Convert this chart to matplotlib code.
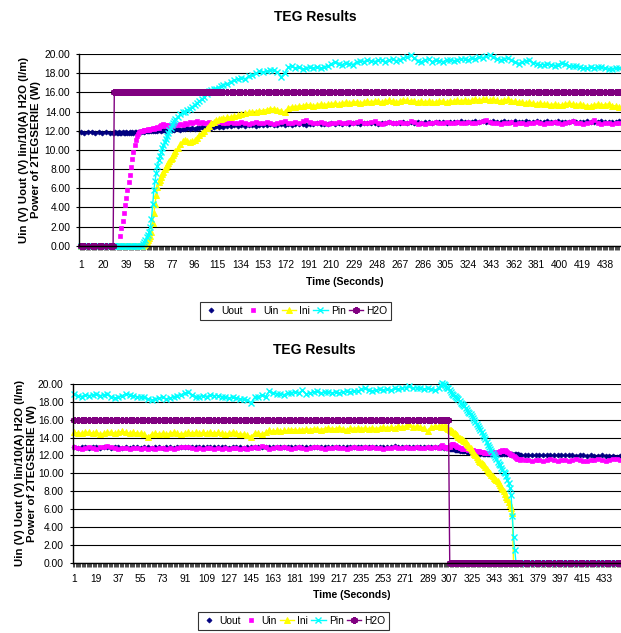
import matplotlib
matplotlib.use("Agg")
import matplotlib.pyplot as plt
from matplotlib.ticker import FixedLocator, FixedFormatter, MultipleLocator, NullFormatter

plt.rcParams['font.family'] = ['Liberation Sans', 'DejaVu Sans']

# ---------------- text ----------------
chart_title = "TEG Results"
y_title = "Uin (V) Uout (V) Iin/10(A) H2O (l/m)\nPower of 2TEGSERIE (W)"
x_title = "Time (Seconds)"
series_names = ["Uout", "Uin", "Ini", "Pin", "H2O"]

# ---------------- top chart data ----------------
time_top = list(range(1, 29, 3)) + list(range(29, 81)) + list(range(82, 121, 2)) + list(range(123, 451, 3))
xtick_top = [1, 20, 39, 58, 77, 96, 115, 134, 153, 172, 191, 210, 229, 248, 267, 286,
             305, 324, 343, 362, 381, 400, 419, 438]

uout_top = [11.9, 11.8, 11.9, 11.9, 11.8, 11.9, 11.8, 11.9, 11.8, 11.8,
            11.8, 11.9, 11.8, 11.8, 11.9, 11.8, 11.8, 11.9, 11.8, 11.8, 11.9, 11.8,
            11.8, 11.9, 11.8, 11.9, 11.8, 11.9, 11.9, 11.8, 11.9, 11.9, 11.9, 12.0,
            12.0, 11.9, 12.0, 12.0, 12.0, 12.0, 12.1, 12.0, 12.0, 12.1, 12.0, 12.1,
            12.0, 12.1, 12.1, 12.0, 12.1, 12.1, 12.1, 12.0, 12.1, 12.1, 12.2, 12.1, 12.1, 12.2, 12.1, 12.2,
            12.2, 12.1, 12.2, 12.2, 12.3, 12.2, 12.3, 12.2, 12.3, 12.3,
            12.4, 12.3, 12.4, 12.4, 12.3, 12.4, 12.5, 12.4, 12.5, 12.4,
            12.5, 12.5, 12.6, 12.5, 12.6, 12.5, 12.6, 12.6, 12.5, 12.6,
            12.6, 12.6, 12.7, 12.6, 12.6, 12.7, 12.6, 12.7, 12.6, 12.7,
            12.7, 12.7, 12.6, 12.7, 12.7, 12.8, 12.7, 12.7, 12.7, 12.8,
            12.7, 12.8, 12.7, 12.8, 12.7, 12.8, 12.8, 12.7, 12.8, 12.8,
            12.8, 12.8, 12.7, 12.8, 12.8, 12.9, 12.8, 12.8, 12.8, 12.9,
            12.8, 12.9, 12.8, 12.9, 12.8, 12.9, 12.9, 12.8, 12.9, 12.9,
            12.9, 12.8, 12.9, 12.9, 12.9, 13.0, 12.9, 12.9, 12.9, 13.0,
            12.9, 13.0, 12.9, 12.9, 13.0, 12.9, 12.9, 13.0, 12.9, 12.9,
            13.0, 12.9, 12.9, 13.0, 12.9, 12.9, 13.0, 12.9, 12.9, 13.0,
            12.9, 12.9, 13.0, 12.9, 12.9, 12.9, 13.0, 12.9, 12.9, 12.9,
            13.0, 12.9, 12.9, 12.9, 13.0, 12.9, 12.9, 12.9, 12.9, 13.0]

uin_top = [0, 0, 0, 0, 0, 0, 0, 0, 0, 0,
           0, 0, 0, 0, 0,
           1.0, 1.8, 2.6, 3.4, 4.2, 5.0, 5.8, 6.6, 7.4, 8.2, 9.0, 9.8, 10.5, 11.0, 11.4, 11.7, 11.9, 12.0, 12.0,
           12.0, 12.1, 12.1, 12.1, 12.2, 12.1, 12.2, 12.2, 12.3, 12.2, 12.3, 12.3, 12.4, 12.3,
           12.5, 12.6, 12.5, 12.7, 12.6, 12.5, 12.6, 12.5, 12.6, 12.6, 12.5, 12.6, 12.7, 12.6,
           12.6, 12.7, 12.6, 12.8, 12.7, 12.9, 12.8, 12.9, 13.0, 12.8,
           12.9, 12.8, 12.8, 12.9, 12.8, 12.8, 12.9, 13.0, 12.9, 12.8,
           12.8, 12.9, 12.8, 12.8, 12.9, 12.8, 12.7, 12.8, 12.9, 12.8,
           12.8, 12.9, 12.8, 12.7, 12.8, 12.9, 13.0, 12.8, 12.8, 12.9,
           12.8, 13.0, 13.1, 12.9, 12.8, 12.8, 12.9, 12.8, 12.7, 12.8,
           12.8, 12.9, 12.8, 12.8, 12.9, 12.8, 12.9, 13.0, 12.8, 12.8,
           12.9, 13.0, 12.8, 12.7, 12.8, 12.9, 12.8, 12.8, 12.9, 12.8,
           12.8, 13.0, 12.9, 12.7, 12.8, 12.7, 12.8, 12.8, 12.9, 12.8,
           12.8, 12.9, 12.8, 12.8, 12.9, 12.8, 12.8, 12.9, 12.8, 12.8,
           12.9, 13.0, 13.1, 12.9, 12.8, 12.8, 12.7, 12.8, 12.8, 12.9,
           12.7, 12.8, 12.8, 12.7, 12.8, 12.8, 12.9, 12.8, 12.7, 12.8,
           12.8, 12.9, 12.8, 12.7, 12.8, 12.9, 13.0, 12.8, 12.8, 12.7,
           12.8, 12.9, 13.1, 12.8, 12.7, 12.8, 12.8, 12.7, 12.8, 12.8]

ini_top = [0, 0, 0, 0, 0, 0, 0, 0, 0, 0,
           0, 0, 0, 0, 0, 0, 0, 0, 0, 0, 0, 0, 0, 0, 0, 0, 0, 0, 0, 0, 0, 0, 0, 0,
           0.0, 0.1, 0.2, 0.4, 0.6, 0.8, 1.0, 1.4, 2.4, 3.4, 4.4, 5.3, 6.1, 6.6,
           6.9, 7.2, 7.5, 7.7, 8.0, 8.2, 8.4, 8.6, 8.8, 9.0, 9.2, 9.5, 9.7, 9.9,
           10.2, 10.6, 10.9, 11.0, 10.9, 10.85, 10.9, 11.0, 11.2, 11.5,
           11.8, 12.0, 12.25, 12.5, 12.8, 12.95, 13.1, 13.2, 13.2, 13.3,
           13.4, 13.45, 13.5, 13.6, 13.7, 13.8, 13.9, 14.0, 14.0, 14.1,
           14.1, 14.2, 14.3, 14.3, 14.2, 14.1, 13.9, 14.4, 14.5, 14.5,
           14.6, 14.6, 14.7, 14.7, 14.6, 14.7, 14.8, 14.7, 14.8, 14.8,
           14.9, 14.8, 14.9, 15.0, 14.9, 15.0, 15.0, 14.9, 15.0, 15.1,
           15.0, 15.1, 15.1, 15.0, 15.1, 15.2, 15.1, 15.0, 15.1, 15.2,
           15.2, 15.1, 15.1, 15.0, 15.1, 15.0, 15.1, 15.0, 15.0, 15.1,
           15.1, 15.0, 15.1, 15.1, 15.2, 15.1, 15.2, 15.1, 15.2, 15.3,
           15.2, 15.3, 15.3, 15.2, 15.3, 15.2, 15.1, 15.2, 15.3, 15.1,
           15.1, 15.0, 15.0, 14.9, 15.0, 14.9, 14.8, 14.9, 14.8, 14.8,
           14.7, 14.8, 14.7, 14.7, 14.8, 14.9, 14.8, 14.7, 14.8, 14.7,
           14.6, 14.6, 14.7, 14.8, 14.7, 14.7, 14.8, 14.6, 14.6, 14.5]

pin_top = [0, 0, 0, 0, 0, 0, 0, 0, 0, 0,
           0, 0, 0, 0, 0, 0, 0, 0, 0, 0, 0, 0, 0, 0, 0, 0, 0, 0, 0, 0, 0, 0, 0, 0,
           0.2, 0.4, 0.6, 0.9, 1.1, 1.4, 1.9, 2.8, 4.3, 5.8, 6.8, 7.6, 8.3, 8.9,
           9.4, 9.8, 10.2, 10.5, 10.8, 11.1, 11.4, 11.8, 12.1, 12.3, 12.6, 12.8, 13.0, 13.2,
           13.4, 13.7, 13.9, 14.0, 14.2, 14.3, 14.5, 14.7, 14.9, 15.1,
           15.3, 15.5, 15.8, 16.1, 16.2, 16.3, 16.4, 16.5, 16.7, 16.8,
           16.9, 17.1, 17.3, 17.4, 17.5, 17.4, 17.7, 17.8, 18.0, 18.2,
           18.1, 18.2, 18.3, 18.3, 18.1, 17.6, 18.0, 18.6, 18.7, 18.5,
           18.6, 18.4, 18.5, 18.6, 18.5, 18.6, 18.5, 18.6, 18.7, 19.0,
           19.2, 19.0, 18.9, 19.1, 19.0, 18.9, 19.2, 19.3, 19.2, 19.4,
           19.3, 19.2, 19.4, 19.4, 19.2, 19.4, 19.5, 19.3, 19.4, 19.6,
           19.7, 19.9, 19.6, 19.3, 19.2, 19.4, 19.5, 19.2, 19.4, 19.3,
           19.2, 19.4, 19.4, 19.3, 19.4, 19.5, 19.5, 19.4, 19.6, 19.5,
           19.7, 19.6, 19.8, 19.9, 19.7, 19.5, 19.4, 19.5, 19.6, 19.4,
           19.2, 19.0, 19.2, 19.3, 19.4, 19.1, 19.0, 18.9, 18.9, 19.0,
           18.9, 18.8, 18.9, 19.1, 19.0, 18.8, 18.7, 18.8, 18.6, 18.5,
           18.5, 18.6, 18.5, 18.6, 18.6, 18.5, 18.4, 18.4, 18.5, 18.5]

h2o_top = [0, 0, 0, 0, 0, 0, 0, 0, 0, 0,
           16, 16, 16, 16, 16, 16, 16, 16, 16, 16, 16, 16, 16, 16, 16, 16, 16, 16, 16, 16,
           16, 16, 16, 16, 16, 16, 16, 16, 16, 16, 16, 16, 16, 16, 16, 16, 16, 16, 16, 16,
           16, 16, 16, 16, 16, 16, 16, 16, 16, 16, 16, 16, 16, 16, 16, 16, 16, 16, 16, 16,
           16, 16, 16, 16, 16, 16, 16, 16, 16, 16, 16, 16, 16, 16, 16, 16, 16, 16, 16, 16,
           16, 16, 16, 16, 16, 16, 16, 16, 16, 16, 16, 16, 16, 16, 16, 16, 16, 16, 16, 16,
           16, 16, 16, 16, 16, 16, 16, 16, 16, 16, 16, 16, 16, 16, 16, 16, 16, 16, 16, 16,
           16, 16, 16, 16, 16, 16, 16, 16, 16, 16, 16, 16, 16, 16, 16, 16, 16, 16, 16, 16,
           16, 16, 16, 16, 16, 16, 16, 16, 16, 16, 16, 16, 16, 16, 16, 16, 16, 16, 16, 16,
           16, 16, 16, 16, 16, 16, 16, 16, 16, 16, 16, 16, 16, 16, 16, 16, 16, 16, 16, 16,
           16, 16]

# ---------------- bottom chart data ----------------
time_bot = list(range(1, 299, 3)) + list(range(300, 366)) + list(range(368, 447, 3))
xtick_bot = [1, 19, 37, 55, 73, 91, 109, 127, 145, 163, 181, 199, 217, 235, 253, 271,
             289, 307, 325, 343, 361, 379, 397, 415, 433]

uout_bot = [12.9, 12.8, 12.9, 12.9, 12.8, 12.9, 12.9, 12.8, 12.9, 12.9,
            12.8, 12.9, 12.9, 12.8, 12.9, 12.8, 12.9, 12.9, 12.8, 12.9,
            12.9, 12.8, 12.9, 12.9, 12.8, 12.9, 12.9, 12.8, 12.9, 12.9,
            12.9, 13.0, 12.9, 12.9, 12.9, 13.0, 12.9, 12.9, 12.9, 12.9,
            12.9, 12.9, 12.8, 12.9, 12.9, 12.9, 12.8, 12.9, 12.9, 12.9,
            12.9, 13.0, 12.9, 12.9, 12.9, 13.0, 12.9, 12.9, 13.0, 12.9,
            12.9, 13.0, 12.9, 12.9, 13.0, 12.9, 13.0, 12.9, 12.9, 13.0,
            12.9, 13.0, 12.9, 13.0, 12.9, 13.0, 12.9, 13.0, 13.0, 12.9,
            13.0, 12.9, 13.0, 13.0, 12.9, 13.0, 13.0, 13.1, 13.0, 13.0,
            13.0, 12.9, 13.0, 13.0, 12.9, 13.0, 13.0, 12.9, 13.0, 12.9,
            12.9, 12.9, 12.8, 12.9, 12.8, 12.8, 12.8, 12.7, 12.7, 12.7,
            12.7, 12.6, 12.6, 12.6, 12.6, 12.5, 12.6, 12.5, 12.5, 12.5,
            12.5, 12.4, 12.4, 12.4, 12.4, 12.3, 12.4, 12.3, 12.3, 12.3,
            12.3, 12.3, 12.2, 12.3, 12.2, 12.2, 12.2, 12.2, 12.2, 12.2,
            12.2, 12.2, 12.2, 12.3, 12.2, 12.2, 12.3, 12.2, 12.2, 12.2,
            12.2, 12.2, 12.3, 12.2, 12.2, 12.2, 12.2, 12.1, 12.2, 12.1,
            12.2, 12.2, 12.1, 12.2, 12.1, 12.1,
            12.1, 12.1, 12.1, 12.0, 12.1, 12.1, 12.0, 12.1, 12.0, 12.0,
            12.0, 12.1, 12.0, 12.0, 11.9, 12.0, 12.0, 11.9, 12.0, 11.9,
            11.9, 12.0, 11.9, 11.9, 11.9, 11.8, 11.9]

uin_bot = [12.9, 12.8, 12.7, 12.8, 12.9, 12.8, 12.7, 12.9, 13.0, 13.1,
           12.9, 12.8, 12.7, 12.8, 12.8, 12.7, 12.8, 12.8, 12.7, 12.8,
           12.7, 12.8, 12.7, 12.8, 12.8, 12.7, 12.8, 12.7, 12.8, 12.9,
           13.0, 12.9, 12.8, 12.7, 12.8, 12.7, 12.8, 12.8, 12.7, 12.8,
           12.7, 12.8, 12.7, 12.8, 12.8, 12.7, 12.8, 12.7, 12.8, 12.9,
           12.8, 13.1, 12.9, 12.7, 12.8, 12.9, 12.8, 13.0, 12.8, 12.7,
           12.8, 12.9, 12.8, 12.7, 12.8, 13.0, 12.9, 12.8, 12.7, 12.8,
           12.8, 12.9, 12.8, 12.8, 12.7, 12.8, 12.9, 12.8, 12.8, 12.9,
           12.8, 12.9, 12.8, 12.8, 12.7, 12.8, 12.8, 12.9, 12.8, 12.8,
           12.9, 12.8, 12.8, 12.9, 12.8, 12.8, 12.9, 12.8, 12.9, 12.8,
           13.1, 13.2, 13.0, 12.9, 12.8, 12.8, 12.9, 13.0, 13.2, 13.3,
           13.3, 13.2, 13.1, 13.0, 12.9, 12.8, 12.8, 12.7, 12.7, 12.7,
           12.7, 12.7, 12.6, 12.7, 12.6, 12.6, 12.6, 12.5, 12.5, 12.5,
           12.5, 12.5, 12.4, 12.4, 12.4, 12.3, 12.3, 12.3, 12.3, 12.3,
           12.3, 12.3, 12.3, 12.3, 12.4, 12.3, 12.4, 12.4, 12.5, 12.5,
           12.6, 12.5, 12.6, 12.5, 12.4, 12.3, 12.2, 12.1, 12.0, 11.9,
           11.8, 11.7, 11.6, 11.6, 11.5, 11.6,
           11.5, 11.5, 11.4, 11.5, 11.5, 11.4, 11.5, 11.6, 11.5, 11.4,
           11.5, 11.5, 11.4, 11.5, 11.6, 11.5, 11.4, 11.4, 11.5, 11.5,
           11.6, 11.5, 11.4, 11.5, 11.6, 11.6, 11.5]

ini_bot = [14.6, 14.5, 14.5, 14.6, 14.6, 14.5, 14.6, 14.4, 14.5, 14.6,
           14.6, 14.5, 14.6, 14.7, 14.6, 14.5, 14.6, 14.5, 14.5, 14.4,
           14.1, 14.4, 14.5, 14.4, 14.5, 14.4, 14.5, 14.6, 14.5, 14.4,
           14.5, 14.6, 14.5, 14.6, 14.5, 14.6, 14.5, 14.6, 14.5, 14.6,
           14.5, 14.4, 14.5, 14.6, 14.5, 14.4, 14.4, 14.3, 14.1, 14.5,
           14.5, 14.4, 14.6, 14.8, 14.7, 14.8, 14.7, 14.8, 14.8, 14.9,
           14.9, 14.8, 14.9, 15.0, 14.9, 15.0, 15.0, 14.9, 15.0, 15.1,
           15.0, 15.0, 15.1, 15.0, 14.9, 15.1, 15.0, 15.1, 15.0, 15.1,
           15.0, 15.1, 15.0, 15.1, 15.2, 15.1, 15.2, 15.1, 15.3, 15.2,
           15.3, 15.5, 15.2, 15.3, 15.2, 15.1, 14.7, 15.2, 15.3, 15.3,
           15.2, 15.3, 15.2, 15.3, 15.2, 15.1, 15.0, 14.9, 14.8, 14.7,
           14.6, 14.5, 14.4, 14.3, 14.1, 14.0, 13.9, 13.8, 13.7, 13.6,
           13.5, 13.3, 13.2, 13.0, 12.8, 12.6, 12.4, 12.2, 12.0, 11.8,
           11.6, 11.4, 11.3, 11.2, 11.0, 10.9, 10.7, 10.5, 10.3, 10.1,
           10.0, 9.8, 9.7, 9.5, 9.4, 9.2, 9.1, 8.9, 8.7, 8.5,
           8.2, 8.0, 7.7, 7.4, 7.1, 6.8, 6.5, 6.1, 5.6, 0.0,
           0, 0, 0, 0, 0, 0,
           0, 0, 0, 0, 0, 0, 0, 0, 0, 0, 0, 0, 0, 0, 0, 0, 0, 0, 0, 0, 0, 0, 0, 0, 0, 0, 0]

pin_bot = [18.9, 18.7, 18.6, 18.8, 18.7, 18.8, 18.9, 18.7, 18.8, 18.9,
           18.6, 18.4, 18.5, 18.7, 18.9, 18.8, 18.7, 18.6, 18.5, 18.6,
           18.3, 18.2, 18.3, 18.4, 18.5, 18.3, 18.4, 18.6, 18.7, 18.8,
           19.0, 19.1, 18.8, 18.6, 18.6, 18.7, 18.6, 18.8, 18.7, 18.7,
           18.6, 18.5, 18.4, 18.5, 18.4, 18.3, 18.3, 18.2, 17.9, 18.5,
           18.6, 18.8, 18.6, 19.2, 19.0, 18.9, 18.9, 18.8, 19.0, 19.0,
           19.1, 19.0, 19.3, 18.9, 19.0, 19.1, 19.2, 19.0, 19.1, 19.1,
           19.0, 19.1, 19.0, 19.1, 19.2, 19.1, 19.2, 19.2, 19.4, 19.5,
           19.3, 19.2, 19.3, 19.4, 19.3, 19.4, 19.3, 19.5, 19.4, 19.5,
           19.6, 19.8, 19.5, 19.6, 19.5, 19.4, 19.5, 19.4, 19.3, 19.5,
           19.9, 20.1, 20.0, 19.9, 19.7, 19.6, 19.5, 19.3, 19.1, 18.9,
           18.8, 18.7, 18.5, 18.4, 18.3, 18.1, 17.9, 17.8, 17.6, 17.5,
           17.3, 17.1, 16.9, 16.7, 16.6, 16.4, 16.2, 16.0, 15.8, 15.5,
           15.3, 15.1, 14.9, 14.6, 14.3, 14.1, 13.8, 13.5, 13.2, 12.9,
           12.7, 12.5, 12.3, 12.0, 11.8, 11.6, 11.3, 11.1, 10.9, 10.6,
           10.4, 10.2, 10.0, 9.7, 9.3, 8.9, 8.4, 7.6, 5.2, 2.9,
           1.4, 0, 0, 0, 0, 0,
           0, 0, 0, 0, 0, 0, 0, 0, 0, 0, 0, 0, 0, 0, 0, 0, 0, 0, 0, 0, 0, 0, 0, 0, 0, 0, 0]

h2o_bot = [16, 16, 16, 16, 16, 16, 16, 16, 16, 16, 16, 16, 16, 16, 16, 16, 16, 16, 16, 16,
           16, 16, 16, 16, 16, 16, 16, 16, 16, 16, 16, 16, 16, 16, 16, 16, 16, 16, 16, 16,
           16, 16, 16, 16, 16, 16, 16, 16, 16, 16, 16, 16, 16, 16, 16, 16, 16, 16, 16, 16,
           16, 16, 16, 16, 16, 16, 16, 16, 16, 16, 16, 16, 16, 16, 16, 16, 16, 16, 16, 16,
           16, 16, 16, 16, 16, 16, 16, 16, 16, 16, 16, 16, 16, 16, 16, 16, 16, 16, 16, 16,
           16, 16, 16, 16, 16, 16, 16,
           0, 0, 0, 0, 0, 0, 0, 0, 0, 0, 0, 0, 0, 0, 0, 0, 0, 0, 0, 0,
           0, 0, 0, 0, 0, 0, 0, 0, 0, 0, 0, 0, 0, 0, 0, 0, 0, 0, 0, 0,
           0, 0, 0, 0, 0, 0, 0, 0, 0, 0, 0, 0, 0, 0, 0, 0, 0, 0, 0,
           0, 0, 0, 0, 0, 0, 0, 0, 0, 0, 0, 0, 0, 0, 0, 0, 0, 0, 0, 0, 0, 0, 0, 0, 0, 0, 0]

y_ticks = [0, 2, 4, 6, 8, 10, 12, 14, 16, 18, 20]

for arr in (uout_top, uin_top, ini_top, pin_top, h2o_top):
    assert len(arr) == len(time_top), (len(arr), len(time_top))
for arr in (uout_bot, uin_bot, ini_bot, pin_bot, h2o_bot):
    assert len(arr) == len(time_bot), (len(arr), len(time_bot))

# ---------------- styling ----------------
W, H = 621, 633
fig = plt.figure(figsize=(W / 100, H / 100), dpi=100)

styles = [
    dict(color="#000080", marker="D", ms=2.6, mew=0.5, ls="None"),
    dict(color="#FF00FF", marker="s", ms=3.0, mew=0.5, ls="None"),
    dict(color="#FFFF00", marker="^", ms=3.8, mew=0.7, ls="-", lw=1.0),
    dict(color="#00FFFF", marker="x", ms=3.8, mew=1.0, ls="-", lw=1.0),
    dict(color="#800080", marker=(6, 2, 0), ms=5.0, mew=1.5, ls="-", lw=1.0),
]


def px_rect(left, top, right, bottom):
    return [left / W, 1 - bottom / H, (right - left) / W, (bottom - top) / H]


def make_chart(rect, times, series, ticks, xlim, pad_x, pad_y):
    ax = fig.add_axes(rect)
    handles = []
    for vals, st, name in zip(series, styles, series_names):
        h, = ax.plot(times, vals, label=name, clip_on=False, **st)
        handles.append(h)
    ax.set_xlim(*xlim)
    ax.set_ylim(0, 20)
    ax.set_yticks(y_ticks)
    ax.set_yticklabels([f"{v:.2f}" for v in y_ticks])
    ax.xaxis.set_major_locator(FixedLocator(ticks))
    ax.xaxis.set_major_formatter(FixedFormatter([str(t) for t in ticks]))
    ax.xaxis.set_minor_locator(MultipleLocator(1))
    ax.xaxis.set_minor_formatter(NullFormatter())
    ax.tick_params(axis="x", which="both", length=3.0, width=0.5, color="black",
                   direction="out", labelsize=7.4, pad=pad_x)
    ax.tick_params(axis="y", which="major", length=2.5, width=0.8, color="black",
                   direction="out", labelsize=7.4, pad=pad_y)
    ax.grid(axis="y", color="black", lw=0.8)
    ax.set_axisbelow(True)
    for s in ("top", "right"):
        ax.spines[s].set_visible(False)
    for s in ("left", "bottom"):
        ax.spines[s].set_color("black")
        ax.spines[s].set_linewidth(1.0)
    return ax, handles


ax1, h1 = make_chart(px_rect(79.3, 54, 621, 245.7), time_top,
                     [uout_top, uin_top, ini_top, pin_top, h2o_top],
                     xtick_top, (-0.17, 451.3), 7.0, 4.0)
ax2, h2 = make_chart(px_rect(72.7, 384, 621, 562.7), time_bot,
                     [uout_bot, uin_bot, ini_bot, pin_bot, h2o_bot],
                     xtick_bot, (-0.3, 446.6), 5.2, 4.0)

# titles and axis titles
fig.text(315 / W, 1 - 17 / H, chart_title, ha="center", va="center", fontsize=10, fontweight="bold")
fig.text(314 / W, 1 - 350 / H, chart_title, ha="center", va="center", fontsize=10, fontweight="bold")
fig.text(345 / W, 1 - 282 / H, x_title, ha="center", va="center", fontsize=7.6, fontweight="bold")
fig.text(352 / W, 1 - 595 / H, x_title, ha="center", va="center", fontsize=7.6, fontweight="bold")
fig.text(30 / W, 1 - 150 / H, y_title, ha="center", va="center", rotation=90,
         multialignment="center", fontsize=8.2, fontweight="bold", linespacing=1.3)
fig.text(26 / W, 1 - 473 / H, y_title, ha="center", va="center", rotation=90,
         multialignment="center", fontsize=8.2, fontweight="bold", linespacing=1.3)

for handles, (cx, cy) in ((h1, (295.5, 311)), (h2, (293.5, 621))):
    leg = fig.legend(handles, series_names, loc="center", bbox_to_anchor=(cx / W, 1 - cy / H),
                     ncol=5, fontsize=7.4, frameon=True, fancybox=False, numpoints=1,
                     handlelength=1.4, handletextpad=0.3, columnspacing=0.3,
                     borderpad=0.35, borderaxespad=0)
    leg.get_frame().set_edgecolor("black")
    leg.get_frame().set_linewidth(0.8)

fig.savefig("out.png", dpi=100)
